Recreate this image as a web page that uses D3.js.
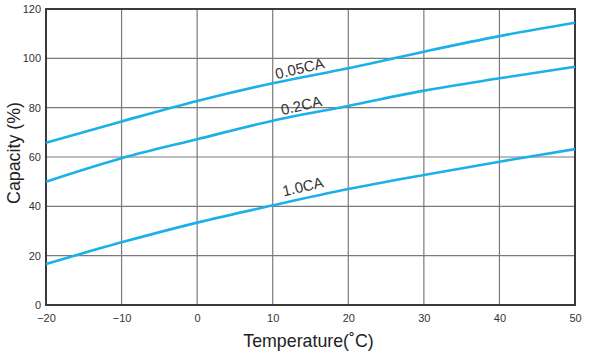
<!DOCTYPE html>
<html><head><meta charset="utf-8">
<script src="https://cdn.jsdelivr.net/npm/d3@7"></script>
<style>body{margin:0;background:#fff}svg{display:block}text{font-family:"Liberation Sans",Arial,sans-serif}</style>
</head><body>
<svg id="c" width="591" height="355"></svg>
<script>
const temps = [-20,-10,0,10,20,30,40,50];
const ca005 = [65.8,74.4,82.7,89.9,96.0,102.7,109.0,114.4];
const ca02 = [50.0,59.5,67.2,74.7,80.7,86.9,91.9,96.6];
const ca10 = [16.6,25.4,33.4,40.4,47.0,52.7,58.1,63.2];
const seriesNames = ["0.05CA","0.2CA","1.0CA"];
const labelPos = [[13.74,93.85],[13.94,78.85],[14.14,45.93]];
const xTicks = [-20,-10,0,10,20,30,40,50];
const yTicks = [0,20,40,60,80,100,120];

const svg = d3.select("#c");
const L=46,R=575,T=9,B=305;
const x = d3.scaleLinear().domain([-20,50]).range([L,R]);
const y = d3.scaleLinear().domain([0,120]).range([B,T]);

// grid
const g = svg.append("g");
g.selectAll(".vx").data(xTicks).join("line")
  .attr("x1",d=>x(d)).attr("x2",d=>x(d)).attr("y1",T).attr("y2",B)
  .attr("stroke","#7a7a7a").attr("stroke-width",1.2);
g.selectAll(".hy").data(yTicks).join("line")
  .attr("y1",d=>y(d)).attr("y2",d=>y(d)).attr("x1",L).attr("x2",R)
  .attr("stroke","#7a7a7a").attr("stroke-width",1.2);
// frame
svg.append("rect").attr("x",L).attr("y",T).attr("width",R-L).attr("height",B-T)
  .attr("fill","none").attr("stroke","#3a3a3a").attr("stroke-width",2);

// axes
const xa = svg.append("g").attr("transform",`translate(0,${B})`)
  .call(d3.axisBottom(x).tickValues(xTicks).tickSize(0).tickPadding(9).tickFormat(d3.format("d")));
const ya = svg.append("g").attr("transform",`translate(${L},0)`)
  .call(d3.axisLeft(y).tickValues(yTicks).tickSize(0).tickPadding(5).tickFormat(d3.format("d")));
[xa,ya].forEach(a=>{a.select(".domain").remove();a.selectAll("text").attr("fill","#333").attr("font-size",11).attr("font-family","Liberation Sans, Arial, sans-serif");});

// lines
const line = d3.line().x((d,i)=>x(temps[i])).y(d=>y(d)).curve(d3.curveMonotoneX);
[ca005,ca02,ca10].forEach(s=>{
  svg.append("path").attr("d",line(s)).attr("fill","none")
    .attr("stroke","#1cb0e8").attr("stroke-width",2.6);
});

// labels
seriesNames.forEach((n,i)=>{
  const [tx,ty]=labelPos[i];
  svg.append("text").attr("transform",`translate(${x(tx)},${y(ty)}) rotate(-13)`)
    .attr("font-size",15).attr("fill","#333").attr("text-anchor","middle").text(n);
});

// axis titles
svg.append("text").attr("x",308.5).attr("y",347).attr("text-anchor","middle")
  .attr("font-size",17.8).attr("fill","#222").text("Temperature(˚C)");
svg.append("text").attr("transform","translate(20,153) rotate(-90)").attr("text-anchor","middle")
  .attr("font-size",17.8).attr("fill","#222").text("Capacity (%)");
</script>
</body></html>
